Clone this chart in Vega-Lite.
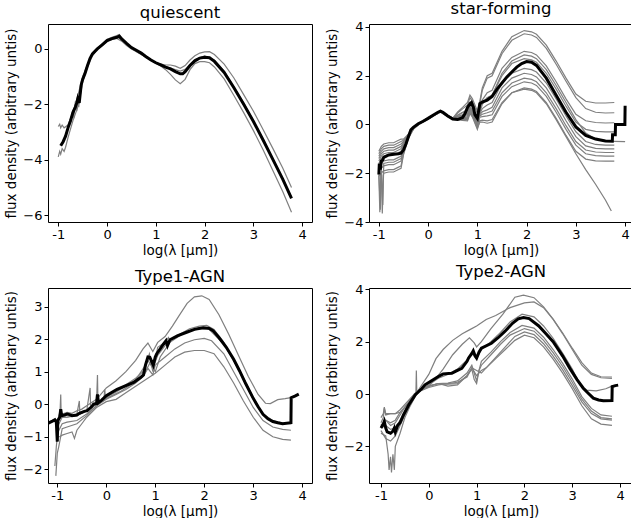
{
"$schema":"https://vega.github.io/schema/vega-lite/v6.json",
"padding":{"left":4,"top":0,"right":0,"bottom":0},
"config":{"font":"DejaVu Sans","view":{"stroke":"#000","strokeWidth":1},
"axis":{"grid":false,"domain":false,"labelFontSize":13,"titleFontSize":13.5,"titleFontWeight":"normal","labelColor":"#000","titleColor":"#000","tickColor":"#000","tickSize":4,"labelPadding":2,"titlePadding":4,"labelFlush":false,"labelOverlap":false},
"axisX":{"titlePadding":2},
"title":{"fontSize":16.5,"fontWeight":"normal","color":"#000","offset":3}},
"columns":2,
"spacing":{"row":6,"column":12},
"datasets":{
"q":[
{"s":"m","x":-0.95,"y":-3.5},{"s":"m","x":-0.9,"y":-3.35},{"s":"m","x":-0.85,"y":-3.15},{"s":"m","x":-0.8,"y":-2.85},{"s":"m","x":-0.75,"y":-2.6},{"s":"m","x":-0.7,"y":-2.3},{"s":"m","x":-0.65,"y":-2.1},{"s":"m","x":-0.62,"y":-1.95},{"s":"m","x":-0.6,"y":-1.8},{"s":"m","x":-0.57,"y":-1.95},{"s":"m","x":-0.53,"y":-1.3},{"s":"m","x":-0.5,"y":-1.1},{"s":"m","x":-0.45,"y":-0.88},{"s":"m","x":-0.4,"y":-0.6},{"s":"m","x":-0.35,"y":-0.35},{"s":"m","x":-0.3,"y":-0.18},{"s":"m","x":-0.2,"y":0.0},{"s":"m","x":-0.1,"y":0.15},{"s":"m","x":0.0,"y":0.3},{"s":"m","x":0.1,"y":0.37},{"s":"m","x":0.2,"y":0.42},{"s":"m","x":0.25,"y":0.46},{"s":"m","x":0.3,"y":0.36},{"s":"m","x":0.4,"y":0.2},{"s":"m","x":0.5,"y":0.05},{"s":"m","x":0.6,"y":-0.05},{"s":"m","x":0.7,"y":-0.15},{"s":"m","x":0.8,"y":-0.28},{"s":"m","x":0.9,"y":-0.4},{"s":"m","x":1.0,"y":-0.5},{"s":"m","x":1.1,"y":-0.58},{"s":"m","x":1.2,"y":-0.66},{"s":"m","x":1.3,"y":-0.72},{"s":"m","x":1.4,"y":-0.82},{"s":"m","x":1.5,"y":-0.9},{"s":"m","x":1.55,"y":-0.9},{"s":"m","x":1.6,"y":-0.82},{"s":"m","x":1.7,"y":-0.6},{"s":"m","x":1.8,"y":-0.43},{"s":"m","x":1.9,"y":-0.33},{"s":"m","x":2.0,"y":-0.3},{"s":"m","x":2.1,"y":-0.32},{"s":"m","x":2.2,"y":-0.45},{"s":"m","x":2.4,"y":-0.85},{"s":"m","x":2.6,"y":-1.4},{"s":"m","x":2.8,"y":-2.0},{"s":"m","x":3.0,"y":-2.62},{"s":"m","x":3.2,"y":-3.3},{"s":"m","x":3.4,"y":-4.0},{"s":"m","x":3.6,"y":-4.7},{"s":"m","x":3.78,"y":-5.4},
{"s":"a","x":-1.0,"y":-2.8},{"s":"a","x":-0.97,"y":-2.72},{"s":"a","x":-0.95,"y":-2.85},{"s":"a","x":-0.92,"y":-2.75},{"s":"a","x":-0.88,"y":-2.85},{"s":"a","x":-0.8,"y":-2.75},{"s":"a","x":-0.7,"y":-2.3},{"s":"a","x":-0.6,"y":-1.7},{"s":"a","x":-0.5,"y":-1.0},{"s":"a","x":-0.4,"y":-0.55},{"s":"a","x":-0.3,"y":-0.2},{"s":"a","x":-0.2,"y":0.0},{"s":"a","x":-0.1,"y":0.18},{"s":"a","x":0.0,"y":0.35},{"s":"a","x":0.1,"y":0.42},{"s":"a","x":0.2,"y":0.48},{"s":"a","x":0.25,"y":0.52},{"s":"a","x":0.3,"y":0.4},{"s":"a","x":0.4,"y":0.17},{"s":"a","x":0.5,"y":0.02},{"s":"a","x":0.6,"y":-0.08},{"s":"a","x":0.8,"y":-0.3},{"s":"a","x":1.0,"y":-0.5},{"s":"a","x":1.2,"y":-0.58},{"s":"a","x":1.3,"y":-0.58},{"s":"a","x":1.4,"y":-0.62},{"s":"a","x":1.5,"y":-0.7},{"s":"a","x":1.6,"y":-0.6},{"s":"a","x":1.7,"y":-0.4},{"s":"a","x":1.8,"y":-0.25},{"s":"a","x":1.9,"y":-0.15},{"s":"a","x":2.0,"y":-0.11},{"s":"a","x":2.1,"y":-0.1},{"s":"a","x":2.2,"y":-0.2},{"s":"a","x":2.4,"y":-0.55},{"s":"a","x":2.6,"y":-1.05},{"s":"a","x":2.8,"y":-1.65},{"s":"a","x":3.0,"y":-2.25},{"s":"a","x":3.2,"y":-2.92},{"s":"a","x":3.4,"y":-3.6},{"s":"a","x":3.6,"y":-4.3},{"s":"a","x":3.78,"y":-5.0},
{"s":"b","x":-1.0,"y":-3.9},{"s":"b","x":-0.97,"y":-3.7},{"s":"b","x":-0.95,"y":-3.8},{"s":"b","x":-0.92,"y":-3.6},{"s":"b","x":-0.88,"y":-3.7},{"s":"b","x":-0.85,"y":-3.55},{"s":"b","x":-0.8,"y":-3.2},{"s":"b","x":-0.7,"y":-2.6},{"s":"b","x":-0.6,"y":-2.1},{"s":"b","x":-0.55,"y":-1.7},{"s":"b","x":-0.5,"y":-1.2},{"s":"b","x":-0.4,"y":-0.65},{"s":"b","x":-0.3,"y":-0.25},{"s":"b","x":-0.2,"y":-0.02},{"s":"b","x":-0.1,"y":0.12},{"s":"b","x":0.0,"y":0.27},{"s":"b","x":0.1,"y":0.34},{"s":"b","x":0.2,"y":0.38},{"s":"b","x":0.3,"y":0.28},{"s":"b","x":0.4,"y":0.12},{"s":"b","x":0.5,"y":0.0},{"s":"b","x":0.6,"y":-0.1},{"s":"b","x":0.8,"y":-0.3},{"s":"b","x":1.0,"y":-0.52},{"s":"b","x":1.1,"y":-0.62},{"s":"b","x":1.2,"y":-0.75},{"s":"b","x":1.3,"y":-0.92},{"s":"b","x":1.4,"y":-1.12},{"s":"b","x":1.5,"y":-1.26},{"s":"b","x":1.6,"y":-1.1},{"s":"b","x":1.7,"y":-0.75},{"s":"b","x":1.8,"y":-0.53},{"s":"b","x":1.9,"y":-0.46},{"s":"b","x":2.0,"y":-0.46},{"s":"b","x":2.1,"y":-0.5},{"s":"b","x":2.2,"y":-0.65},{"s":"b","x":2.4,"y":-1.08},{"s":"b","x":2.6,"y":-1.68},{"s":"b","x":2.8,"y":-2.3},{"s":"b","x":3.0,"y":-2.95},{"s":"b","x":3.2,"y":-3.65},{"s":"b","x":3.4,"y":-4.4},{"s":"b","x":3.6,"y":-5.15},{"s":"b","x":3.78,"y":-5.9},
{"s":"c","x":-0.75,"y":-2.6},{"s":"c","x":-0.7,"y":-2.2},{"s":"c","x":-0.68,"y":-2.5},{"s":"c","x":-0.65,"y":-1.9},{"s":"c","x":-0.62,"y":-2.25},{"s":"c","x":-0.6,"y":-1.6},{"s":"c","x":-0.58,"y":-2.1},{"s":"c","x":-0.55,"y":-1.5},{"s":"c","x":-0.5,"y":-1.05},{"s":"c","x":-0.4,"y":-0.58},{"s":"c","x":-0.3,"y":-0.2},{"s":"c","x":-0.2,"y":0.0},{"s":"c","x":0.0,"y":0.32},{"s":"c","x":0.2,"y":0.45},{"s":"c","x":0.3,"y":0.34},{"s":"c","x":0.5,"y":0.03},{"s":"c","x":0.8,"y":-0.3},{"s":"c","x":1.0,"y":-0.5},{"s":"c","x":1.2,"y":-0.64},{"s":"c","x":1.4,"y":-0.75},{"s":"c","x":1.5,"y":-0.8},{"s":"c","x":1.6,"y":-0.74},{"s":"c","x":1.8,"y":-0.38},{"s":"c","x":2.0,"y":-0.25},{"s":"c","x":2.2,"y":-0.4},{"s":"c","x":2.4,"y":-0.8},{"s":"c","x":2.8,"y":-1.95},{"s":"c","x":3.2,"y":-3.25},{"s":"c","x":3.78,"y":-5.35}
],
"sf":[
{"s":"m","x":-1.0,"y":-2.05},{"s":"m","x":-0.99,"y":-1.6},{"s":"m","x":-0.97,"y":-1.85},{"s":"m","x":-0.95,"y":-1.5},{"s":"m","x":-0.92,"y":-1.45},{"s":"m","x":-0.9,"y":-1.35},{"s":"m","x":-0.85,"y":-1.3},{"s":"m","x":-0.8,"y":-1.25},{"s":"m","x":-0.7,"y":-1.22},{"s":"m","x":-0.6,"y":-1.2},{"s":"m","x":-0.55,"y":-1.18},{"s":"m","x":-0.5,"y":-1.05},{"s":"m","x":-0.45,"y":-0.8},{"s":"m","x":-0.4,"y":-0.5},{"s":"m","x":-0.35,"y":-0.22},{"s":"m","x":-0.3,"y":-0.12},{"s":"m","x":-0.2,"y":0.03},{"s":"m","x":-0.1,"y":0.13},{"s":"m","x":0.0,"y":0.25},{"s":"m","x":0.1,"y":0.38},{"s":"m","x":0.2,"y":0.5},{"s":"m","x":0.25,"y":0.55},{"s":"m","x":0.3,"y":0.5},{"s":"m","x":0.4,"y":0.35},{"s":"m","x":0.5,"y":0.22},{"s":"m","x":0.6,"y":0.2},{"s":"m","x":0.7,"y":0.28},{"s":"m","x":0.75,"y":0.45},{"s":"m","x":0.8,"y":0.7},{"s":"m","x":0.85,"y":0.85},{"s":"m","x":0.88,"y":0.9},{"s":"m","x":0.92,"y":0.7},{"s":"m","x":0.95,"y":0.4},{"s":"m","x":1.0,"y":0.25},{"s":"m","x":1.03,"y":0.6},{"s":"m","x":1.05,"y":0.85},{"s":"m","x":1.1,"y":0.92},{"s":"m","x":1.2,"y":1.0},{"s":"m","x":1.3,"y":1.15},{"s":"m","x":1.4,"y":1.45},{"s":"m","x":1.5,"y":1.7},{"s":"m","x":1.6,"y":1.95},{"s":"m","x":1.7,"y":2.15},{"s":"m","x":1.8,"y":2.35},{"s":"m","x":1.9,"y":2.5},{"s":"m","x":2.0,"y":2.58},{"s":"m","x":2.1,"y":2.55},{"s":"m","x":2.2,"y":2.42},{"s":"m","x":2.4,"y":1.9},{"s":"m","x":2.6,"y":1.2},{"s":"m","x":2.8,"y":0.5},{"s":"m","x":3.0,"y":-0.1},{"s":"m","x":3.2,"y":-0.45},{"s":"m","x":3.4,"y":-0.6},{"s":"m","x":3.6,"y":-0.68},{"s":"m","x":3.74,"y":-0.69},{"s":"m","x":3.745,"y":-0.42},{"s":"m","x":3.8,"y":-0.42},{"s":"m","x":3.805,"y":0.0},{"s":"m","x":3.995,"y":0.0},{"s":"m","x":4.0,"y":0.77},
{"s":"g1","x":-1.0,"y":-1.1},{"s":"g1","x":-0.95,"y":-0.9},{"s":"g1","x":-0.9,"y":-0.8},{"s":"g1","x":-0.8,"y":-0.75},{"s":"g1","x":-0.7,"y":-0.75},{"s":"g1","x":-0.6,"y":-0.65},{"s":"g1","x":-0.55,"y":-0.6},{"s":"g1","x":-0.5,"y":-0.6},{"s":"g1","x":-0.4,"y":-0.4},{"s":"g1","x":-0.3,"y":-0.15},{"s":"g1","x":-0.2,"y":0.02},{"s":"g1","x":0.0,"y":0.25},{"s":"g1","x":0.2,"y":0.48},{"s":"g1","x":0.25,"y":0.55},{"s":"g1","x":0.4,"y":0.35},{"s":"g1","x":0.5,"y":0.25},{"s":"g1","x":0.6,"y":0.51},{"s":"g1","x":0.7,"y":0.7},{"s":"g1","x":0.8,"y":0.9},{"s":"g1","x":0.85,"y":1.2},{"s":"g1","x":0.9,"y":1.05},{"s":"g1","x":1.0,"y":0.55},{"s":"g1","x":1.05,"y":0.95},{"s":"g1","x":1.1,"y":1.5},{"s":"g1","x":1.2,"y":2.0},{"s":"g1","x":1.3,"y":2.1},{"s":"g1","x":1.5,"y":3.0},{"s":"g1","x":1.7,"y":3.6},{"s":"g1","x":1.95,"y":3.85},{"s":"g1","x":2.1,"y":3.8},{"s":"g1","x":2.2,"y":3.7},{"s":"g1","x":2.4,"y":3.25},{"s":"g1","x":2.6,"y":2.6},{"s":"g1","x":2.8,"y":1.9},{"s":"g1","x":3.0,"y":1.25},{"s":"g1","x":3.2,"y":0.95},{"s":"g1","x":3.4,"y":0.88},{"s":"g1","x":3.6,"y":0.88},{"s":"g1","x":3.78,"y":0.9},
{"s":"g2","x":-1.0,"y":-1.3},{"s":"g2","x":-0.95,"y":-1.1},{"s":"g2","x":-0.9,"y":-1.0},{"s":"g2","x":-0.8,"y":-0.95},{"s":"g2","x":-0.7,"y":-0.95},{"s":"g2","x":-0.6,"y":-0.85},{"s":"g2","x":-0.55,"y":-0.8},{"s":"g2","x":-0.5,"y":-0.7},{"s":"g2","x":-0.4,"y":-0.43},{"s":"g2","x":-0.3,"y":-0.15},{"s":"g2","x":-0.2,"y":0.02},{"s":"g2","x":0.0,"y":0.25},{"s":"g2","x":0.2,"y":0.48},{"s":"g2","x":0.25,"y":0.55},{"s":"g2","x":0.4,"y":0.35},{"s":"g2","x":0.5,"y":0.25},{"s":"g2","x":0.6,"y":0.47},{"s":"g2","x":0.7,"y":0.64},{"s":"g2","x":0.8,"y":0.8},{"s":"g2","x":0.85,"y":1.1},{"s":"g2","x":0.9,"y":0.95},{"s":"g2","x":1.0,"y":0.45},{"s":"g2","x":1.05,"y":0.85},{"s":"g2","x":1.1,"y":1.4},{"s":"g2","x":1.2,"y":1.9},{"s":"g2","x":1.3,"y":2.0},{"s":"g2","x":1.5,"y":2.9},{"s":"g2","x":1.7,"y":3.45},{"s":"g2","x":1.95,"y":3.72},{"s":"g2","x":2.1,"y":3.67},{"s":"g2","x":2.2,"y":3.57},{"s":"g2","x":2.4,"y":3.12},{"s":"g2","x":2.6,"y":2.47},{"s":"g2","x":2.8,"y":1.77},{"s":"g2","x":3.0,"y":1.1},{"s":"g2","x":3.2,"y":0.65},{"s":"g2","x":3.4,"y":0.5},{"s":"g2","x":3.6,"y":0.47},{"s":"g2","x":3.78,"y":0.48},
{"s":"g3","x":-1.0,"y":-1.6},{"s":"g3","x":-0.95,"y":-1.4},{"s":"g3","x":-0.9,"y":-1.3},{"s":"g3","x":-0.8,"y":-1.25},{"s":"g3","x":-0.7,"y":-1.25},{"s":"g3","x":-0.6,"y":-1.15},{"s":"g3","x":-0.55,"y":-1.1},{"s":"g3","x":-0.5,"y":-0.85},{"s":"g3","x":-0.4,"y":-0.47},{"s":"g3","x":-0.3,"y":-0.15},{"s":"g3","x":-0.2,"y":0.02},{"s":"g3","x":0.0,"y":0.25},{"s":"g3","x":0.2,"y":0.48},{"s":"g3","x":0.25,"y":0.55},{"s":"g3","x":0.4,"y":0.35},{"s":"g3","x":0.5,"y":0.25},{"s":"g3","x":0.6,"y":0.39},{"s":"g3","x":0.7,"y":0.5},{"s":"g3","x":0.8,"y":0.6},{"s":"g3","x":0.85,"y":0.9},{"s":"g3","x":0.9,"y":0.75},{"s":"g3","x":1.0,"y":0.25},{"s":"g3","x":1.05,"y":0.65},{"s":"g3","x":1.1,"y":1.0},{"s":"g3","x":1.2,"y":1.3},{"s":"g3","x":1.3,"y":1.4},{"s":"g3","x":1.5,"y":2.3},{"s":"g3","x":1.7,"y":2.75},{"s":"g3","x":1.95,"y":3.0},{"s":"g3","x":2.1,"y":2.95},{"s":"g3","x":2.2,"y":2.85},{"s":"g3","x":2.4,"y":2.4},{"s":"g3","x":2.6,"y":1.75},{"s":"g3","x":2.8,"y":1.05},{"s":"g3","x":3.0,"y":0.42},{"s":"g3","x":3.2,"y":0.15},{"s":"g3","x":3.4,"y":0.08},{"s":"g3","x":3.6,"y":0.06},{"s":"g3","x":3.78,"y":0.07},
{"s":"g4","x":-1.0,"y":-2.0},{"s":"g4","x":-0.97,"y":-3.5},{"s":"g4","x":-0.95,"y":-1.8},{"s":"g4","x":-0.9,"y":-1.7},{"s":"g4","x":-0.8,"y":-1.65},{"s":"g4","x":-0.7,"y":-1.65},{"s":"g4","x":-0.6,"y":-1.55},{"s":"g4","x":-0.55,"y":-1.5},{"s":"g4","x":-0.5,"y":-1.05},{"s":"g4","x":-0.4,"y":-0.52},{"s":"g4","x":-0.3,"y":-0.18},{"s":"g4","x":-0.2,"y":0.0},{"s":"g4","x":0.0,"y":0.23},{"s":"g4","x":0.2,"y":0.46},{"s":"g4","x":0.25,"y":0.52},{"s":"g4","x":0.4,"y":0.33},{"s":"g4","x":0.5,"y":0.23},{"s":"g4","x":0.6,"y":0.37},{"s":"g4","x":0.7,"y":0.48},{"s":"g4","x":0.8,"y":0.55},{"s":"g4","x":0.85,"y":0.85},{"s":"g4","x":0.9,"y":0.7},{"s":"g4","x":1.0,"y":0.2},{"s":"g4","x":1.05,"y":0.6},{"s":"g4","x":1.1,"y":0.9},{"s":"g4","x":1.2,"y":1.1},{"s":"g4","x":1.3,"y":1.2},{"s":"g4","x":1.5,"y":2.1},{"s":"g4","x":1.7,"y":2.6},{"s":"g4","x":1.95,"y":2.85},{"s":"g4","x":2.1,"y":2.8},{"s":"g4","x":2.2,"y":2.7},{"s":"g4","x":2.4,"y":2.25},{"s":"g4","x":2.6,"y":1.6},{"s":"g4","x":2.8,"y":0.9},{"s":"g4","x":3.0,"y":0.2},{"s":"g4","x":3.2,"y":-0.35},{"s":"g4","x":3.4,"y":-0.6},{"s":"g4","x":3.6,"y":-0.68},{"s":"g4","x":3.78,"y":-0.69},{"s":"g4","x":4.0,"y":-0.7},
{"s":"g5","x":-1.0,"y":-1.2},{"s":"g5","x":-0.95,"y":-1.0},{"s":"g5","x":-0.9,"y":-0.9},{"s":"g5","x":-0.8,"y":-0.85},{"s":"g5","x":-0.7,"y":-0.85},{"s":"g5","x":-0.6,"y":-0.75},{"s":"g5","x":-0.55,"y":-0.7},{"s":"g5","x":-0.5,"y":-0.65},{"s":"g5","x":-0.4,"y":-0.42},{"s":"g5","x":-0.3,"y":-0.13},{"s":"g5","x":-0.2,"y":0.04},{"s":"g5","x":0.0,"y":0.27},{"s":"g5","x":0.2,"y":0.5},{"s":"g5","x":0.25,"y":0.57},{"s":"g5","x":0.4,"y":0.37},{"s":"g5","x":0.5,"y":0.27},{"s":"g5","x":0.6,"y":0.33},{"s":"g5","x":0.7,"y":0.4},{"s":"g5","x":0.8,"y":0.45},{"s":"g5","x":0.85,"y":0.75},{"s":"g5","x":0.9,"y":0.6},{"s":"g5","x":1.0,"y":0.1},{"s":"g5","x":1.05,"y":0.5},{"s":"g5","x":1.1,"y":0.82},{"s":"g5","x":1.2,"y":1.1},{"s":"g5","x":1.3,"y":1.2},{"s":"g5","x":1.5,"y":2.0},{"s":"g5","x":1.7,"y":2.5},{"s":"g5","x":1.95,"y":2.7},{"s":"g5","x":2.1,"y":2.65},{"s":"g5","x":2.2,"y":2.55},{"s":"g5","x":2.4,"y":2.1},{"s":"g5","x":2.6,"y":1.45},{"s":"g5","x":2.8,"y":0.75},{"s":"g5","x":3.0,"y":0.1},{"s":"g5","x":3.2,"y":-0.2},{"s":"g5","x":3.4,"y":-0.28},{"s":"g5","x":3.6,"y":-0.3},{"s":"g5","x":3.78,"y":-0.3},
{"s":"g6","x":-1.0,"y":-1.8},{"s":"g6","x":-0.95,"y":-1.6},{"s":"g6","x":-0.9,"y":-1.5},{"s":"g6","x":-0.8,"y":-1.45},{"s":"g6","x":-0.7,"y":-1.45},{"s":"g6","x":-0.6,"y":-1.35},{"s":"g6","x":-0.55,"y":-1.3},{"s":"g6","x":-0.5,"y":-0.95},{"s":"g6","x":-0.4,"y":-0.5},{"s":"g6","x":-0.3,"y":-0.17},{"s":"g6","x":-0.2,"y":0.0},{"s":"g6","x":0.0,"y":0.24},{"s":"g6","x":0.2,"y":0.47},{"s":"g6","x":0.25,"y":0.54},{"s":"g6","x":0.4,"y":0.34},{"s":"g6","x":0.5,"y":0.24},{"s":"g6","x":0.6,"y":0.31},{"s":"g6","x":0.7,"y":0.36},{"s":"g6","x":0.8,"y":0.4},{"s":"g6","x":0.85,"y":0.7},{"s":"g6","x":0.9,"y":0.55},{"s":"g6","x":1.0,"y":0.05},{"s":"g6","x":1.05,"y":0.45},{"s":"g6","x":1.1,"y":0.65},{"s":"g6","x":1.2,"y":0.8},{"s":"g6","x":1.3,"y":0.9},{"s":"g6","x":1.5,"y":1.7},{"s":"g6","x":1.7,"y":2.1},{"s":"g6","x":1.95,"y":2.3},{"s":"g6","x":2.1,"y":2.25},{"s":"g6","x":2.2,"y":2.15},{"s":"g6","x":2.4,"y":1.7},{"s":"g6","x":2.6,"y":1.05},{"s":"g6","x":2.8,"y":0.35},{"s":"g6","x":3.0,"y":-0.3},{"s":"g6","x":3.2,"y":-0.7},{"s":"g6","x":3.4,"y":-0.82},{"s":"g6","x":3.6,"y":-0.85},{"s":"g6","x":3.78,"y":-0.85},
{"s":"g7","x":-1.0,"y":-1.5},{"s":"g7","x":-0.95,"y":-1.3},{"s":"g7","x":-0.9,"y":-1.2},{"s":"g7","x":-0.8,"y":-1.15},{"s":"g7","x":-0.7,"y":-1.15},{"s":"g7","x":-0.6,"y":-1.05},{"s":"g7","x":-0.55,"y":-1.0},{"s":"g7","x":-0.5,"y":-0.8},{"s":"g7","x":-0.4,"y":-0.45},{"s":"g7","x":-0.3,"y":-0.14},{"s":"g7","x":-0.2,"y":0.03},{"s":"g7","x":0.0,"y":0.26},{"s":"g7","x":0.2,"y":0.49},{"s":"g7","x":0.25,"y":0.56},{"s":"g7","x":0.4,"y":0.36},{"s":"g7","x":0.5,"y":0.26},{"s":"g7","x":0.6,"y":0.3},{"s":"g7","x":0.7,"y":0.32},{"s":"g7","x":0.8,"y":0.35},{"s":"g7","x":0.85,"y":0.65},{"s":"g7","x":0.9,"y":0.5},{"s":"g7","x":1.0,"y":0.0},{"s":"g7","x":1.05,"y":0.4},{"s":"g7","x":1.1,"y":0.52},{"s":"g7","x":1.2,"y":0.6},{"s":"g7","x":1.3,"y":0.7},{"s":"g7","x":1.5,"y":1.5},{"s":"g7","x":1.7,"y":1.9},{"s":"g7","x":1.95,"y":2.1},{"s":"g7","x":2.1,"y":2.05},{"s":"g7","x":2.2,"y":1.95},{"s":"g7","x":2.4,"y":1.5},{"s":"g7","x":2.6,"y":0.85},{"s":"g7","x":2.8,"y":0.15},{"s":"g7","x":3.0,"y":-0.5},{"s":"g7","x":3.2,"y":-0.88},{"s":"g7","x":3.4,"y":-0.98},{"s":"g7","x":3.6,"y":-1.0},{"s":"g7","x":3.78,"y":-1.0},
{"s":"g8","x":-1.0,"y":-2.1},{"s":"g8","x":-0.98,"y":-3.6},{"s":"g8","x":-0.96,"y":-2.0},{"s":"g8","x":-0.9,"y":-1.9},{"s":"g8","x":-0.8,"y":-1.85},{"s":"g8","x":-0.7,"y":-1.85},{"s":"g8","x":-0.6,"y":-1.75},{"s":"g8","x":-0.55,"y":-1.7},{"s":"g8","x":-0.5,"y":-1.2},{"s":"g8","x":-0.4,"y":-0.55},{"s":"g8","x":-0.3,"y":-0.18},{"s":"g8","x":-0.2,"y":0.0},{"s":"g8","x":0.0,"y":0.23},{"s":"g8","x":0.2,"y":0.46},{"s":"g8","x":0.25,"y":0.52},{"s":"g8","x":0.4,"y":0.33},{"s":"g8","x":0.5,"y":0.23},{"s":"g8","x":0.6,"y":0.26},{"s":"g8","x":0.7,"y":0.28},{"s":"g8","x":0.8,"y":0.3},{"s":"g8","x":0.85,"y":0.6},{"s":"g8","x":0.9,"y":0.45},{"s":"g8","x":1.0,"y":-0.05},{"s":"g8","x":1.05,"y":0.35},{"s":"g8","x":1.1,"y":0.42},{"s":"g8","x":1.2,"y":0.48},{"s":"g8","x":1.3,"y":0.55},{"s":"g8","x":1.5,"y":1.3},{"s":"g8","x":1.7,"y":1.7},{"s":"g8","x":1.95,"y":1.9},{"s":"g8","x":2.1,"y":1.85},{"s":"g8","x":2.2,"y":1.75},{"s":"g8","x":2.4,"y":1.3},{"s":"g8","x":2.6,"y":0.65},{"s":"g8","x":2.8,"y":-0.05},{"s":"g8","x":3.0,"y":-0.7},{"s":"g8","x":3.2,"y":-1.05},{"s":"g8","x":3.4,"y":-1.13},{"s":"g8","x":3.6,"y":-1.15},{"s":"g8","x":3.78,"y":-1.15},
{"s":"g9","x":-1.0,"y":-1.4},{"s":"g9","x":-0.95,"y":-1.2},{"s":"g9","x":-0.9,"y":-1.1},{"s":"g9","x":-0.8,"y":-1.05},{"s":"g9","x":-0.7,"y":-1.05},{"s":"g9","x":-0.6,"y":-0.95},{"s":"g9","x":-0.55,"y":-0.9},{"s":"g9","x":-0.5,"y":-0.75},{"s":"g9","x":-0.4,"y":-0.44},{"s":"g9","x":-0.3,"y":-0.14},{"s":"g9","x":-0.2,"y":0.03},{"s":"g9","x":0.0,"y":0.26},{"s":"g9","x":0.2,"y":0.49},{"s":"g9","x":0.25,"y":0.56},{"s":"g9","x":0.4,"y":0.36},{"s":"g9","x":0.5,"y":0.26},{"s":"g9","x":0.6,"y":0.25},{"s":"g9","x":0.7,"y":0.25},{"s":"g9","x":0.8,"y":0.25},{"s":"g9","x":0.85,"y":0.55},{"s":"g9","x":0.9,"y":0.4},{"s":"g9","x":1.0,"y":-0.1},{"s":"g9","x":1.05,"y":0.3},{"s":"g9","x":1.1,"y":0.32},{"s":"g9","x":1.2,"y":0.35},{"s":"g9","x":1.3,"y":0.4},{"s":"g9","x":1.5,"y":1.15},{"s":"g9","x":1.7,"y":1.55},{"s":"g9","x":1.95,"y":1.75},{"s":"g9","x":2.1,"y":1.7},{"s":"g9","x":2.2,"y":1.6},{"s":"g9","x":2.4,"y":1.15},{"s":"g9","x":2.6,"y":0.5},{"s":"g9","x":2.8,"y":-0.2},{"s":"g9","x":3.0,"y":-0.85},{"s":"g9","x":3.2,"y":-1.2},{"s":"g9","x":3.4,"y":-1.28},{"s":"g9","x":3.6,"y":-1.3},{"s":"g9","x":3.78,"y":-1.3},
{"s":"g10","x":-1.0,"y":-1.9},{"s":"g10","x":-0.95,"y":-1.7},{"s":"g10","x":-0.92,"y":-3.3},{"s":"g10","x":-0.9,"y":-1.6},{"s":"g10","x":-0.8,"y":-1.55},{"s":"g10","x":-0.7,"y":-1.55},{"s":"g10","x":-0.6,"y":-1.45},{"s":"g10","x":-0.55,"y":-1.4},{"s":"g10","x":-0.5,"y":-1.0},{"s":"g10","x":-0.4,"y":-0.5},{"s":"g10","x":-0.3,"y":-0.17},{"s":"g10","x":-0.2,"y":0.0},{"s":"g10","x":0.0,"y":0.24},{"s":"g10","x":0.2,"y":0.47},{"s":"g10","x":0.25,"y":0.54},{"s":"g10","x":0.4,"y":0.34},{"s":"g10","x":0.5,"y":0.24},{"s":"g10","x":0.6,"y":0.22},{"s":"g10","x":0.7,"y":0.21},{"s":"g10","x":0.8,"y":0.2},{"s":"g10","x":0.85,"y":0.5},{"s":"g10","x":0.9,"y":0.35},{"s":"g10","x":1.0,"y":-0.15},{"s":"g10","x":1.05,"y":0.1},{"s":"g10","x":1.1,"y":0.1},{"s":"g10","x":1.2,"y":0.05},{"s":"g10","x":1.3,"y":0.1},{"s":"g10","x":1.5,"y":0.85},{"s":"g10","x":1.7,"y":1.3},{"s":"g10","x":1.95,"y":1.5},{"s":"g10","x":2.1,"y":1.45},{"s":"g10","x":2.2,"y":1.35},{"s":"g10","x":2.4,"y":0.9},{"s":"g10","x":2.6,"y":0.25},{"s":"g10","x":2.8,"y":-0.45},{"s":"g10","x":3.0,"y":-1.1},{"s":"g10","x":3.2,"y":-1.42},{"s":"g10","x":3.4,"y":-1.49},{"s":"g10","x":3.6,"y":-1.5},{"s":"g10","x":3.78,"y":-1.5},
{"s":"g11","x":-1.0,"y":-2.1},{"s":"g11","x":-0.95,"y":-2.05},{"s":"g11","x":-0.93,"y":-3.65},{"s":"g11","x":-0.91,"y":-2.1},{"s":"g11","x":-0.9,"y":-2.0},{"s":"g11","x":-0.8,"y":-1.95},{"s":"g11","x":-0.7,"y":-1.95},{"s":"g11","x":-0.6,"y":-1.85},{"s":"g11","x":-0.55,"y":-1.8},{"s":"g11","x":-0.5,"y":-1.25},{"s":"g11","x":-0.4,"y":-0.57},{"s":"g11","x":-0.3,"y":-0.2},{"s":"g11","x":-0.2,"y":-0.02},{"s":"g11","x":0.0,"y":0.22},{"s":"g11","x":0.2,"y":0.45},{"s":"g11","x":0.25,"y":0.5},{"s":"g11","x":0.4,"y":0.32},{"s":"g11","x":0.5,"y":0.22},{"s":"g11","x":0.6,"y":0.19},{"s":"g11","x":0.7,"y":0.17},{"s":"g11","x":0.8,"y":0.15},{"s":"g11","x":0.85,"y":0.45},{"s":"g11","x":0.9,"y":0.3},{"s":"g11","x":1.0,"y":-0.2},{"s":"g11","x":1.05,"y":0.15},{"s":"g11","x":1.1,"y":0.18},{"s":"g11","x":1.2,"y":0.15},{"s":"g11","x":1.3,"y":0.2},{"s":"g11","x":1.5,"y":0.9},{"s":"g11","x":1.7,"y":1.3},{"s":"g11","x":1.95,"y":1.45},{"s":"g11","x":2.1,"y":1.4},{"s":"g11","x":2.2,"y":1.3},{"s":"g11","x":2.4,"y":0.85},{"s":"g11","x":2.6,"y":0.2},{"s":"g11","x":2.8,"y":-0.5},{"s":"g11","x":3.0,"y":-1.2},{"s":"g11","x":3.2,"y":-1.85},{"s":"g11","x":3.4,"y":-2.45},{"s":"g11","x":3.6,"y":-3.1},{"s":"g11","x":3.72,"y":-3.55}
],
"t1":[
{"s":"m","x":-1.21,"y":-0.6},{"s":"m","x":-1.1,"y":-0.52},{"s":"m","x":-1.05,"y":-0.48},{"s":"m","x":-1.02,"y":-0.55},{"s":"m","x":-1.0,"y":-1.15},{"s":"m","x":-0.99,"y":-0.5},{"s":"m","x":-0.95,"y":-0.4},{"s":"m","x":-0.93,"y":-0.15},{"s":"m","x":-0.91,"y":-0.35},{"s":"m","x":-0.85,"y":-0.33},{"s":"m","x":-0.8,"y":-0.3},{"s":"m","x":-0.75,"y":-0.32},{"s":"m","x":-0.7,"y":-0.35},{"s":"m","x":-0.6,"y":-0.33},{"s":"m","x":-0.55,"y":-0.28},{"s":"m","x":-0.5,"y":-0.25},{"s":"m","x":-0.45,"y":-0.22},{"s":"m","x":-0.39,"y":-0.2},{"s":"m","x":-0.3,"y":-0.08},{"s":"m","x":-0.26,"y":0.0},{"s":"m","x":-0.2,"y":0.02},{"s":"m","x":-0.18,"y":0.3},{"s":"m","x":-0.16,"y":0.05},{"s":"m","x":-0.1,"y":0.12},{"s":"m","x":0.0,"y":0.26},{"s":"m","x":0.1,"y":0.35},{"s":"m","x":0.22,"y":0.46},{"s":"m","x":0.4,"y":0.57},{"s":"m","x":0.56,"y":0.67},{"s":"m","x":0.7,"y":0.82},{"s":"m","x":0.76,"y":0.9},{"s":"m","x":0.8,"y":1.2},{"s":"m","x":0.85,"y":1.45},{"s":"m","x":0.89,"y":1.44},{"s":"m","x":0.93,"y":1.3},{"s":"m","x":0.96,"y":1.2},{"s":"m","x":1.0,"y":1.45},{"s":"m","x":1.03,"y":1.55},{"s":"m","x":1.1,"y":1.7},{"s":"m","x":1.17,"y":1.85},{"s":"m","x":1.22,"y":1.95},{"s":"m","x":1.25,"y":1.8},{"s":"m","x":1.3,"y":1.98},{"s":"m","x":1.45,"y":2.1},{"s":"m","x":1.64,"y":2.21},{"s":"m","x":1.8,"y":2.3},{"s":"m","x":1.98,"y":2.35},{"s":"m","x":2.1,"y":2.33},{"s":"m","x":2.18,"y":2.26},{"s":"m","x":2.3,"y":2.05},{"s":"m","x":2.45,"y":1.75},{"s":"m","x":2.6,"y":1.38},{"s":"m","x":2.72,"y":1.03},{"s":"m","x":2.85,"y":0.62},{"s":"m","x":2.99,"y":0.21},{"s":"m","x":3.1,"y":-0.08},{"s":"m","x":3.2,"y":-0.31},{"s":"m","x":3.3,"y":-0.45},{"s":"m","x":3.4,"y":-0.53},{"s":"m","x":3.5,"y":-0.57},{"s":"m","x":3.6,"y":-0.6},{"s":"m","x":3.77,"y":-0.57},{"s":"m","x":3.775,"y":0.2},{"s":"m","x":3.85,"y":0.25},{"s":"m","x":3.93,"y":0.31},
{"s":"a","x":-1.0,"y":-0.55},{"s":"a","x":-0.95,"y":-0.25},{"s":"a","x":-0.9,"y":-0.3},{"s":"a","x":-0.8,"y":-0.25},{"s":"a","x":-0.7,"y":-0.28},{"s":"a","x":-0.6,"y":-0.2},{"s":"a","x":-0.5,"y":-0.15},{"s":"a","x":-0.4,"y":-0.05},{"s":"a","x":-0.2,"y":0.15},{"s":"a","x":0.0,"y":0.5},{"s":"a","x":0.2,"y":0.72},{"s":"a","x":0.4,"y":1.0},{"s":"a","x":0.6,"y":1.35},{"s":"a","x":0.75,"y":1.7},{"s":"a","x":0.85,"y":1.88},{"s":"a","x":0.95,"y":1.62},{"s":"a","x":1.05,"y":1.9},{"s":"a","x":1.2,"y":2.08},{"s":"a","x":1.35,"y":2.4},{"s":"a","x":1.5,"y":2.75},{"s":"a","x":1.65,"y":3.1},{"s":"a","x":1.8,"y":3.3},{"s":"a","x":1.95,"y":3.33},{"s":"a","x":2.1,"y":3.22},{"s":"a","x":2.3,"y":2.75},{"s":"a","x":2.5,"y":2.15},{"s":"a","x":2.7,"y":1.5},{"s":"a","x":2.9,"y":0.85},{"s":"a","x":3.1,"y":0.3},{"s":"a","x":3.25,"y":0.03},{"s":"a","x":3.35,"y":0.02},{"s":"a","x":3.5,"y":0.14},{"s":"a","x":3.65,"y":0.17},{"s":"a","x":3.77,"y":0.2},
{"s":"b","x":-1.0,"y":-0.7},{"s":"b","x":-0.9,"y":-0.4},{"s":"b","x":-0.8,"y":-0.4},{"s":"b","x":-0.6,"y":-0.35},{"s":"b","x":-0.4,"y":-0.2},{"s":"b","x":-0.2,"y":0.0},{"s":"b","x":0.0,"y":0.22},{"s":"b","x":0.2,"y":0.42},{"s":"b","x":0.4,"y":0.6},{"s":"b","x":0.6,"y":0.8},{"s":"b","x":0.75,"y":1.0},{"s":"b","x":0.85,"y":1.35},{"s":"b","x":0.95,"y":1.1},{"s":"b","x":1.05,"y":1.5},{"s":"b","x":1.2,"y":1.8},{"s":"b","x":1.3,"y":1.95},{"s":"b","x":1.5,"y":2.15},{"s":"b","x":1.7,"y":2.32},{"s":"b","x":1.9,"y":2.4},{"s":"b","x":2.05,"y":2.42},{"s":"b","x":2.2,"y":2.3},{"s":"b","x":2.4,"y":1.9},{"s":"b","x":2.6,"y":1.35},{"s":"b","x":2.8,"y":0.75},{"s":"b","x":3.0,"y":0.15},{"s":"b","x":3.2,"y":-0.3},{"s":"b","x":3.4,"y":-0.5},{"s":"b","x":3.6,"y":-0.58},{"s":"b","x":3.77,"y":-0.6},
{"s":"c","x":-1.0,"y":-0.9},{"s":"c","x":-0.9,"y":-0.6},{"s":"c","x":-0.8,"y":-0.55},{"s":"c","x":-0.6,"y":-0.5},{"s":"c","x":-0.4,"y":-0.3},{"s":"c","x":-0.2,"y":-0.05},{"s":"c","x":0.0,"y":0.15},{"s":"c","x":0.2,"y":0.3},{"s":"c","x":0.4,"y":0.45},{"s":"c","x":0.6,"y":0.65},{"s":"c","x":0.75,"y":0.85},{"s":"c","x":0.85,"y":1.1},{"s":"c","x":0.95,"y":0.9},{"s":"c","x":1.0,"y":1.2},{"s":"c","x":1.2,"y":1.45},{"s":"c","x":1.4,"y":1.7},{"s":"c","x":1.6,"y":1.88},{"s":"c","x":1.8,"y":1.98},{"s":"c","x":2.0,"y":2.02},{"s":"c","x":2.15,"y":1.95},{"s":"c","x":2.4,"y":1.55},{"s":"c","x":2.6,"y":1.0},{"s":"c","x":2.8,"y":0.45},{"s":"c","x":3.0,"y":-0.1},{"s":"c","x":3.2,"y":-0.5},{"s":"c","x":3.4,"y":-0.7},{"s":"c","x":3.6,"y":-0.77},{"s":"c","x":3.77,"y":-0.8},
{"s":"d","x":-1.05,"y":-1.9},{"s":"d","x":-1.02,"y":-1.3},{"s":"d","x":-1.0,"y":-1.0},{"s":"d","x":-0.95,"y":-1.0},{"s":"d","x":-0.9,"y":-0.95},{"s":"d","x":-0.8,"y":-0.9},{"s":"d","x":-0.7,"y":-0.85},{"s":"d","x":-0.65,"y":-1.05},{"s":"d","x":-0.6,"y":-0.8},{"s":"d","x":-0.5,"y":-0.6},{"s":"d","x":-0.4,"y":-0.4},{"s":"d","x":-0.2,"y":-0.1},{"s":"d","x":0.0,"y":0.08},{"s":"d","x":0.2,"y":0.15},{"s":"d","x":0.4,"y":0.35},{"s":"d","x":0.6,"y":0.55},{"s":"d","x":0.8,"y":0.75},{"s":"d","x":1.0,"y":0.95},{"s":"d","x":1.2,"y":1.2},{"s":"d","x":1.4,"y":1.45},{"s":"d","x":1.6,"y":1.6},{"s":"d","x":1.8,"y":1.65},{"s":"d","x":2.0,"y":1.65},{"s":"d","x":2.2,"y":1.55},{"s":"d","x":2.4,"y":1.15},{"s":"d","x":2.6,"y":0.65},{"s":"d","x":2.8,"y":0.1},{"s":"d","x":3.0,"y":-0.4},{"s":"d","x":3.2,"y":-0.8},{"s":"d","x":3.4,"y":-1.0},{"s":"d","x":3.6,"y":-1.08},{"s":"d","x":3.77,"y":-1.1},
{"s":"e","x":-1.03,"y":-2.2},{"s":"e","x":-1.0,"y":-1.5},{"s":"e","x":-0.97,"y":-1.3},{"s":"e","x":-0.9,"y":-0.75},{"s":"e","x":-0.8,"y":-0.7},{"s":"e","x":-0.6,"y":-0.6},{"s":"e","x":-0.4,"y":-0.35},{"s":"e","x":-0.2,"y":-0.05},{"s":"e","x":0.0,"y":0.18},{"s":"e","x":0.3,"y":0.4},{"s":"e","x":0.6,"y":0.7},{"s":"e","x":0.8,"y":1.0},{"s":"e","x":0.9,"y":1.3},{"s":"e","x":1.0,"y":1.0},{"s":"e","x":1.1,"y":1.45},{"s":"e","x":1.3,"y":1.9},{"s":"e","x":1.6,"y":2.2},{"s":"e","x":1.9,"y":2.33},{"s":"e","x":2.1,"y":2.3},{"s":"e","x":2.4,"y":1.85},{"s":"e","x":2.7,"y":1.1},{"s":"e","x":3.0,"y":0.2},{"s":"e","x":3.2,"y":-0.3},{"s":"e","x":3.4,"y":-0.52},{"s":"e","x":3.6,"y":-0.6},{"s":"e","x":3.77,"y":-0.58},
{"s":"f","x":-1.0,"y":-0.6},{"s":"f","x":-0.95,"y":-0.45},{"s":"f","x":-0.93,"y":0.3},{"s":"f","x":-0.92,"y":-0.4},{"s":"f","x":-0.8,"y":-0.4},{"s":"f","x":-0.7,"y":-0.35},{"s":"f","x":-0.6,"y":-0.3},{"s":"f","x":-0.55,"y":0.1},{"s":"f","x":-0.54,"y":-0.3},{"s":"f","x":-0.4,"y":-0.2},{"s":"f","x":-0.33,"y":0.5},{"s":"f","x":-0.32,"y":-0.1},{"s":"f","x":-0.2,"y":0.0},{"s":"f","x":-0.18,"y":0.9},{"s":"f","x":-0.17,"y":0.05},{"s":"f","x":-0.05,"y":0.15},{"s":"f","x":-0.03,"y":0.45},{"s":"f","x":-0.02,"y":0.2},{"s":"f","x":0.2,"y":0.38},{"s":"f","x":0.4,"y":0.55},{"s":"f","x":0.6,"y":0.75},{"s":"f","x":0.8,"y":1.2},{"s":"f","x":0.88,"y":1.55},{"s":"f","x":0.95,"y":1.0},{"s":"f","x":1.05,"y":1.75},{"s":"f","x":1.2,"y":1.9},{"s":"f","x":1.27,"y":2.05},{"s":"f","x":1.3,"y":1.95},{"s":"f","x":1.6,"y":2.2},{"s":"f","x":1.9,"y":2.35},{"s":"f","x":2.1,"y":2.32},{"s":"f","x":2.4,"y":1.85},{"s":"f","x":2.7,"y":1.1},{"s":"f","x":3.0,"y":0.2},{"s":"f","x":3.2,"y":-0.32},{"s":"f","x":3.4,"y":-0.54},{"s":"f","x":3.6,"y":-0.6},{"s":"f","x":3.77,"y":-0.58}
],
"t2":[
{"s":"m","x":-1.0,"y":-1.3},{"s":"m","x":-0.95,"y":-1.15},{"s":"m","x":-0.93,"y":-1.05},{"s":"m","x":-0.9,"y":-1.3},{"s":"m","x":-0.87,"y":-1.45},{"s":"m","x":-0.8,"y":-1.5},{"s":"m","x":-0.75,"y":-1.42},{"s":"m","x":-0.72,"y":-1.3},{"s":"m","x":-0.7,"y":-1.45},{"s":"m","x":-0.65,"y":-1.2},{"s":"m","x":-0.6,"y":-1.1},{"s":"m","x":-0.53,"y":-0.8},{"s":"m","x":-0.42,"y":-0.42},{"s":"m","x":-0.28,"y":-0.03},{"s":"m","x":-0.15,"y":0.2},{"s":"m","x":-0.08,"y":0.35},{"s":"m","x":0.05,"y":0.5},{"s":"m","x":0.2,"y":0.67},{"s":"m","x":0.3,"y":0.77},{"s":"m","x":0.48,"y":0.79},{"s":"m","x":0.6,"y":0.9},{"s":"m","x":0.69,"y":0.98},{"s":"m","x":0.8,"y":1.25},{"s":"m","x":0.83,"y":1.37},{"s":"m","x":0.9,"y":1.55},{"s":"m","x":0.93,"y":1.65},{"s":"m","x":0.97,"y":1.45},{"s":"m","x":1.0,"y":1.37},{"s":"m","x":1.05,"y":1.6},{"s":"m","x":1.1,"y":1.75},{"s":"m","x":1.31,"y":1.94},{"s":"m","x":1.45,"y":2.15},{"s":"m","x":1.59,"y":2.39},{"s":"m","x":1.75,"y":2.7},{"s":"m","x":1.87,"y":2.87},{"s":"m","x":1.98,"y":2.92},{"s":"m","x":2.1,"y":2.88},{"s":"m","x":2.3,"y":2.6},{"s":"m","x":2.45,"y":2.3},{"s":"m","x":2.6,"y":2.0},{"s":"m","x":2.8,"y":1.45},{"s":"m","x":2.95,"y":0.98},{"s":"m","x":3.1,"y":0.55},{"s":"m","x":3.23,"y":0.22},{"s":"m","x":3.35,"y":0.0},{"s":"m","x":3.44,"y":-0.16},{"s":"m","x":3.55,"y":-0.23},{"s":"m","x":3.65,"y":-0.26},{"s":"m","x":3.83,"y":-0.25},{"s":"m","x":3.835,"y":0.28},{"s":"m","x":3.9,"y":0.32},{"s":"m","x":3.96,"y":0.34},
{"s":"a","x":-1.0,"y":-1.2},{"s":"a","x":-0.9,"y":-1.0},{"s":"a","x":-0.8,"y":-1.2},{"s":"a","x":-0.7,"y":-1.1},{"s":"a","x":-0.6,"y":-0.8},{"s":"a","x":-0.5,"y":-0.5},{"s":"a","x":-0.4,"y":-0.25},{"s":"a","x":-0.3,"y":0.0},{"s":"a","x":-0.2,"y":0.15},{"s":"a","x":0.0,"y":0.3},{"s":"a","x":0.15,"y":0.6},{"s":"a","x":0.3,"y":0.95},{"s":"a","x":0.5,"y":1.5},{"s":"a","x":0.7,"y":1.9},{"s":"a","x":0.85,"y":2.15},{"s":"a","x":0.95,"y":1.95},{"s":"a","x":1.0,"y":1.8},{"s":"a","x":1.1,"y":2.0},{"s":"a","x":1.3,"y":2.5},{"s":"a","x":1.55,"y":3.05},{"s":"a","x":1.8,"y":3.7},{"s":"a","x":1.98,"y":3.78},{"s":"a","x":2.2,"y":3.68},{"s":"a","x":2.4,"y":3.33},{"s":"a","x":2.6,"y":2.86},{"s":"a","x":2.8,"y":2.33},{"s":"a","x":3.0,"y":1.75},{"s":"a","x":3.2,"y":1.2},{"s":"a","x":3.4,"y":0.8},{"s":"a","x":3.6,"y":0.66},{"s":"a","x":3.83,"y":0.65},
{"s":"b","x":-1.0,"y":-1.1},{"s":"b","x":-0.95,"y":-0.9},{"s":"b","x":-0.93,"y":-0.55},{"s":"b","x":-0.9,"y":-0.8},{"s":"b","x":-0.8,"y":-0.75},{"s":"b","x":-0.7,"y":-0.75},{"s":"b","x":-0.6,"y":-0.7},{"s":"b","x":-0.5,"y":-0.5},{"s":"b","x":-0.4,"y":-0.3},{"s":"b","x":-0.3,"y":-0.05},{"s":"b","x":-0.2,"y":0.2},{"s":"b","x":0.0,"y":0.75},{"s":"b","x":0.15,"y":1.35},{"s":"b","x":0.3,"y":1.7},{"s":"b","x":0.5,"y":2.05},{"s":"b","x":0.7,"y":2.3},{"s":"b","x":0.85,"y":2.45},{"s":"b","x":1.0,"y":2.6},{"s":"b","x":1.2,"y":2.85},{"s":"b","x":1.4,"y":3.0},{"s":"b","x":1.7,"y":3.3},{"s":"b","x":2.0,"y":3.48},{"s":"b","x":2.2,"y":3.52},{"s":"b","x":2.4,"y":3.3},{"s":"b","x":2.6,"y":2.85},{"s":"b","x":2.8,"y":2.3},{"s":"b","x":3.0,"y":1.7},{"s":"b","x":3.2,"y":1.1},{"s":"b","x":3.4,"y":0.75},{"s":"b","x":3.6,"y":0.62},{"s":"b","x":3.83,"y":0.6},
{"s":"c","x":-1.0,"y":-1.3},{"s":"c","x":-0.9,"y":-1.2},{"s":"c","x":-0.8,"y":-1.35},{"s":"c","x":-0.7,"y":-1.3},{"s":"c","x":-0.6,"y":-1.0},{"s":"c","x":-0.5,"y":-0.7},{"s":"c","x":-0.4,"y":-0.4},{"s":"c","x":-0.3,"y":-0.1},{"s":"c","x":-0.2,"y":0.15},{"s":"c","x":0.0,"y":0.35},{"s":"c","x":0.2,"y":0.6},{"s":"c","x":0.4,"y":0.75},{"s":"c","x":0.6,"y":0.95},{"s":"c","x":0.8,"y":1.3},{"s":"c","x":0.9,"y":1.55},{"s":"c","x":1.0,"y":1.35},{"s":"c","x":1.1,"y":1.7},{"s":"c","x":1.3,"y":2.0},{"s":"c","x":1.5,"y":2.35},{"s":"c","x":1.7,"y":2.75},{"s":"c","x":1.95,"y":3.05},{"s":"c","x":2.2,"y":2.95},{"s":"c","x":2.4,"y":2.6},{"s":"c","x":2.6,"y":2.13},{"s":"c","x":2.8,"y":1.55},{"s":"c","x":3.0,"y":0.95},{"s":"c","x":3.16,"y":0.35},{"s":"c","x":3.3,"y":0.15},{"s":"c","x":3.5,"y":0.12},{"s":"c","x":3.7,"y":0.2},{"s":"c","x":3.83,"y":0.3},
{"s":"d","x":-1.0,"y":-0.9},{"s":"d","x":-0.95,"y":-0.75},{"s":"d","x":-0.93,"y":-0.5},{"s":"d","x":-0.9,"y":-0.75},{"s":"d","x":-0.8,"y":-0.75},{"s":"d","x":-0.7,"y":-0.75},{"s":"d","x":-0.6,"y":-0.6},{"s":"d","x":-0.5,"y":-0.4},{"s":"d","x":-0.4,"y":-0.2},{"s":"d","x":-0.3,"y":0.0},{"s":"d","x":-0.2,"y":0.15},{"s":"d","x":0.0,"y":0.3},{"s":"d","x":0.2,"y":0.4},{"s":"d","x":0.4,"y":0.42},{"s":"d","x":0.6,"y":0.5},{"s":"d","x":0.8,"y":0.8},{"s":"d","x":0.9,"y":1.1},{"s":"d","x":1.0,"y":0.5},{"s":"d","x":1.05,"y":0.9},{"s":"d","x":1.1,"y":1.25},{"s":"d","x":1.3,"y":1.6},{"s":"d","x":1.5,"y":2.0},{"s":"d","x":1.7,"y":2.35},{"s":"d","x":1.95,"y":2.62},{"s":"d","x":2.2,"y":2.52},{"s":"d","x":2.4,"y":2.17},{"s":"d","x":2.6,"y":1.7},{"s":"d","x":2.8,"y":1.17},{"s":"d","x":3.0,"y":0.57},{"s":"d","x":3.2,"y":-0.1},{"s":"d","x":3.4,"y":-0.55},{"s":"d","x":3.6,"y":-0.8},{"s":"d","x":3.83,"y":-0.85},
{"s":"e","x":-1.0,"y":-1.5},{"s":"e","x":-0.9,"y":-1.6},{"s":"e","x":-0.85,"y":-2.3},{"s":"e","x":-0.83,"y":-2.9},{"s":"e","x":-0.8,"y":-2.4},{"s":"e","x":-0.78,"y":-3.0},{"s":"e","x":-0.75,"y":-2.3},{"s":"e","x":-0.72,"y":-2.9},{"s":"e","x":-0.7,"y":-2.0},{"s":"e","x":-0.6,"y":-1.5},{"s":"e","x":-0.5,"y":-0.9},{"s":"e","x":-0.4,"y":-0.5},{"s":"e","x":-0.3,"y":-0.15},{"s":"e","x":-0.27,"y":-0.05},{"s":"e","x":-0.26,"y":0.9},{"s":"e","x":-0.25,"y":0.0},{"s":"e","x":-0.2,"y":0.1},{"s":"e","x":0.0,"y":0.3},{"s":"e","x":0.2,"y":0.4},{"s":"e","x":0.4,"y":0.3},{"s":"e","x":0.6,"y":0.35},{"s":"e","x":0.8,"y":0.7},{"s":"e","x":0.9,"y":0.95},{"s":"e","x":0.95,"y":0.55},{"s":"e","x":1.0,"y":0.4},{"s":"e","x":1.05,"y":0.9},{"s":"e","x":1.1,"y":1.1},{"s":"e","x":1.3,"y":1.5},{"s":"e","x":1.5,"y":1.9},{"s":"e","x":1.7,"y":2.25},{"s":"e","x":2.0,"y":2.5},{"s":"e","x":2.2,"y":2.4},{"s":"e","x":2.4,"y":2.05},{"s":"e","x":2.6,"y":1.58},{"s":"e","x":2.8,"y":1.05},{"s":"e","x":3.0,"y":0.45},{"s":"e","x":3.2,"y":-0.2},{"s":"e","x":3.4,"y":-0.65},{"s":"e","x":3.6,"y":-0.9},{"s":"e","x":3.83,"y":-0.95},
{"s":"f","x":-1.0,"y":-1.2},{"s":"f","x":-0.9,"y":-1.0},{"s":"f","x":-0.8,"y":-1.1},{"s":"f","x":-0.7,"y":-1.0},{"s":"f","x":-0.6,"y":-0.7},{"s":"f","x":-0.5,"y":-0.5},{"s":"f","x":-0.4,"y":-0.3},{"s":"f","x":-0.3,"y":-0.05},{"s":"f","x":-0.2,"y":0.15},{"s":"f","x":0.0,"y":0.3},{"s":"f","x":0.2,"y":0.4},{"s":"f","x":0.4,"y":0.38},{"s":"f","x":0.6,"y":0.4},{"s":"f","x":0.8,"y":0.7},{"s":"f","x":0.9,"y":1.0},{"s":"f","x":1.0,"y":0.7},{"s":"f","x":1.1,"y":0.9},{"s":"f","x":1.2,"y":1.0},{"s":"f","x":1.4,"y":1.4},{"s":"f","x":1.6,"y":1.8},{"s":"f","x":1.8,"y":2.2},{"s":"f","x":2.0,"y":2.37},{"s":"f","x":2.2,"y":2.27},{"s":"f","x":2.4,"y":1.92},{"s":"f","x":2.6,"y":1.45},{"s":"f","x":2.8,"y":0.92},{"s":"f","x":3.0,"y":0.32},{"s":"f","x":3.2,"y":-0.3},{"s":"f","x":3.4,"y":-0.75},{"s":"f","x":3.6,"y":-0.95},{"s":"f","x":3.83,"y":-1.0},
{"s":"g","x":-1.0,"y":-1.4},{"s":"g","x":-0.9,"y":-1.7},{"s":"g","x":-0.8,"y":-1.8},{"s":"g","x":-0.7,"y":-1.6},{"s":"g","x":-0.6,"y":-1.2},{"s":"g","x":-0.5,"y":-0.8},{"s":"g","x":-0.4,"y":-0.45},{"s":"g","x":-0.3,"y":-0.1},{"s":"g","x":-0.2,"y":0.1},{"s":"g","x":0.0,"y":0.25},{"s":"g","x":0.2,"y":0.35},{"s":"g","x":0.4,"y":0.4},{"s":"g","x":0.6,"y":0.45},{"s":"g","x":0.8,"y":0.65},{"s":"g","x":0.9,"y":1.0},{"s":"g","x":1.0,"y":0.9},{"s":"g","x":1.1,"y":0.8},{"s":"g","x":1.2,"y":1.0},{"s":"g","x":1.4,"y":1.35},{"s":"g","x":1.6,"y":1.7},{"s":"g","x":1.8,"y":2.05},{"s":"g","x":2.0,"y":2.25},{"s":"g","x":2.2,"y":2.15},{"s":"g","x":2.4,"y":1.8},{"s":"g","x":2.6,"y":1.33},{"s":"g","x":2.8,"y":0.8},{"s":"g","x":3.0,"y":0.2},{"s":"g","x":3.2,"y":-0.45},{"s":"g","x":3.4,"y":-0.95},{"s":"g","x":3.6,"y":-1.15},{"s":"g","x":3.83,"y":-1.2}
]
},
"concat":[
{"title":"quiescent","width":264,"height":198,"data":{"name":"q"},
"encoding":{"x":{"field":"x","type":"quantitative","scale":{"domain":[-1.21,4.2],"nice":false,"zero":false},"axis":{"values":[-1,0,1,2,3,4],"title":"log(λ [μm])","labelExpr":"replace(datum.label,'−','-')"}},
"y":{"field":"y","type":"quantitative","scale":{"domain":[-6.25,0.9],"nice":false,"zero":false},"axis":{"values":[-6,-4,-2,0],"title":"flux density (arbitrary untis)"}},
"detail":{"field":"s"}},
"layer":[{"transform":[{"filter":"datum.s!='m'"}],"mark":{"type":"line","color":"#7f7f7f","strokeWidth":1.2,"clip":true}},
{"transform":[{"filter":"datum.s=='m'"}],"mark":{"type":"line","color":"#000","strokeWidth":3,"clip":true}}]},
{"title":"star-forming","width":264,"height":198,"data":{"name":"sf"},
"encoding":{"x":{"field":"x","type":"quantitative","scale":{"domain":[-1.2,4.16],"nice":false,"zero":false},"axis":{"values":[-1,0,1,2,3,4],"title":"log(λ [μm])","labelExpr":"replace(datum.label,'−','-')"}},
"y":{"field":"y","type":"quantitative","scale":{"domain":[-4.0,4.12],"nice":false,"zero":false},"axis":{"values":[-4,-2,0,2,4],"title":"flux density (arbitrary untis)"}},
"detail":{"field":"s"}},
"layer":[{"transform":[{"filter":"datum.s!='m'"}],"mark":{"type":"line","color":"#7f7f7f","strokeWidth":1.2,"clip":true}},
{"transform":[{"filter":"datum.s=='m'"}],"mark":{"type":"line","color":"#000","strokeWidth":3,"clip":true}}]},
{"title":"Type1-AGN","width":264,"height":195,"data":{"name":"t1"},
"encoding":{"x":{"field":"x","type":"quantitative","scale":{"domain":[-1.19,4.2],"nice":false,"zero":false},"axis":{"values":[-1,0,1,2,3,4],"title":"log(λ [μm])","labelExpr":"replace(datum.label,'−','-')"}},
"y":{"field":"y","type":"quantitative","scale":{"domain":[-2.42,3.57],"nice":false,"zero":false},"axis":{"values":[-2,-1,0,1,2,3],"title":"flux density (arbitrary untis)"}},
"detail":{"field":"s"}},
"layer":[{"transform":[{"filter":"datum.s!='m'"}],"mark":{"type":"line","color":"#7f7f7f","strokeWidth":1.2,"clip":true}},
{"transform":[{"filter":"datum.s=='m'"}],"mark":{"type":"line","color":"#000","strokeWidth":3,"clip":true}}]},
{"title":"Type2-AGN","width":264,"height":195,"data":{"name":"t2"},
"encoding":{"x":{"field":"x","type":"quantitative","scale":{"domain":[-1.25,4.27],"nice":false,"zero":false},"axis":{"values":[-1,0,1,2,3,4],"title":"log(λ [μm])","labelExpr":"replace(datum.label,'−','-')"}},
"y":{"field":"y","type":"quantitative","scale":{"domain":[-3.4,4.05],"nice":false,"zero":false},"axis":{"values":[-2,0,2,4],"title":"flux density (arbitrary untis)"}},
"detail":{"field":"s"}},
"layer":[{"transform":[{"filter":"datum.s!='m'"}],"mark":{"type":"line","color":"#7f7f7f","strokeWidth":1.2,"clip":true}},
{"transform":[{"filter":"datum.s=='m'"}],"mark":{"type":"line","color":"#000","strokeWidth":3,"clip":true}}]}
]
}
